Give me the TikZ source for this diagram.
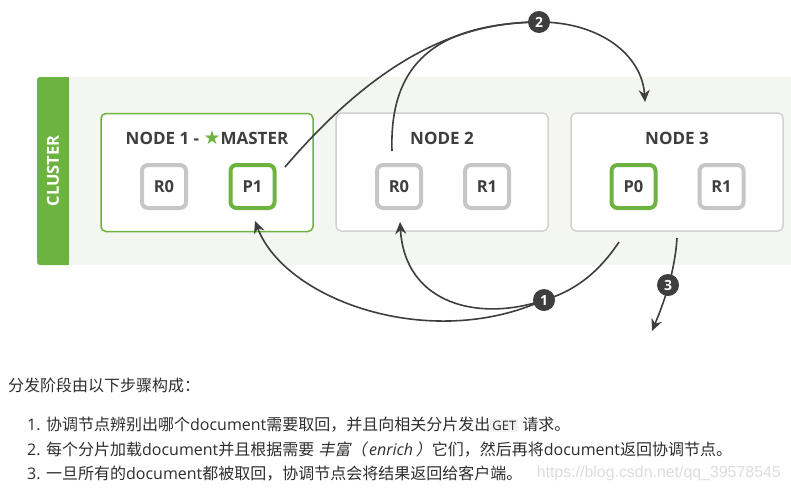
\documentclass[tikz,border=0pt]{standalone}
\usepackage{fontspec}
\setmainfont{Open Sans}
\newfontfamily\cjk{Noto Sans CJK SC}
\newfontfamily\cjkit[FakeSlant=0.2]{Noto Sans CJK SC}
\newfontfamily\sym{DejaVu Sans}
\newfontfamily\wm{Liberation Sans}
\usetikzlibrary{arrows.meta}
\definecolor{esgreen}{HTML}{6DB33F}
\definecolor{clbg}{HTML}{F4F6F1}
\definecolor{boxline}{HTML}{D2D2D2}
\definecolor{shardgray}{HTML}{C6C6C6}
\definecolor{ink}{HTML}{3E3E3E}
\definecolor{txt}{HTML}{2E2E2E}
\definecolor{codebg}{HTML}{F0F0F0}
\definecolor{wmgray}{HTML}{DCDCDC}
\tikzset{
  nodebox/.style={draw=boxline, line width=1.5pt, fill=white, rounded corners=5pt, minimum width=212pt, minimum height=118pt, inner sep=0pt},
  masterbox/.style={nodebox, draw=esgreen},
  title/.style={font=\fontsize{17}{17}\selectfont\bfseries, text=ink, inner sep=0pt},
  shard/.style={draw=shardgray, line width=4pt, fill=white, rounded corners=6pt, minimum width=44pt, minimum height=43pt, inner sep=0pt, font=\fontsize{16.5}{16.5}\selectfont\bfseries, text=ink},
  primary/.style={shard, draw=esgreen},
  stepnum/.style={circle, fill=ink, minimum size=22pt, inner sep=0pt, text=white, font=\fontsize{14}{14}\selectfont\bfseries},
  conn/.style={draw=ink, line width=1.6pt},
  tip/.style={-{Stealth[length=12pt,width=11pt]}},
  para/.style={anchor=base west, inner sep=0pt, text=txt, font=\fontsize{16}{16}\selectfont}
}
\begin{document}
\begin{tikzpicture}[x=1pt,y=-1pt]
\useasboundingbox (0,0) rectangle (791,490);
% cluster background
\fill[clbg] (37,77) rectangle (791,265);
\fill[esgreen, rounded corners=3pt] (37,77) rectangle (69,265);
\fill[esgreen] (60,77) rectangle (69,265);
\node[rotate=90, text=white, font=\fontsize{16.5}{16.5}\selectfont\bfseries, inner sep=0pt] (cluster) at (53,171) {CLUSTER};
% nodes
\node[masterbox] (node1) at (207,172.5) {};
\node[nodebox] (node2) at (442,172) {};
\node[nodebox] (node3) at (677,172) {};
\node[title] (t1) at (207,138) {NODE 1 - {\sym\fontsize{19}{19}\selectfont\color{esgreen}★}MASTER};
\node[title] (t2) at (442,138) {NODE 2};
\node[title] (t3) at (677,138) {NODE 3};
% shards
\node[shard] (n1r0) at (164,186.5) {R0};
\node[primary] (n1p1) at (252.5,186.5) {P1};
\node[shard] (n2r0) at (399,186.5) {R0};
\node[shard] (n2r1) at (487,186.5) {R1};
\node[primary] (n3p0) at (633.5,186.5) {P0};
\node[shard] (n3r1) at (721.5,186.5) {R1};
% connector anchors
\coordinate (k1) at (544,300);
\coordinate (k2) at (539,22);
\coordinate (k3) at (668,285);
\coordinate (s2a) at (285,167);
\coordinate (s2b) at (392,151);
\coordinate (e2) at (645,102);
\coordinate (s1) at (619,242);
\coordinate (e1a) at (255,221);
\coordinate (e1b) at (400,222);
\coordinate (s3) at (677,238);
\coordinate (e3) at (652,331);
% step 2
\draw[conn, tip] (s2a) .. controls (375,62) and (455,22) .. (k2) .. controls (600,22) and (642,55) .. (e2);
\draw[conn] (s2b) .. controls (389,60) and (440,24) .. (k2);
% step 1
\draw[conn] (s1) .. controls (597,275) and (572,292) .. (k1);
\draw[conn, tip] (k1) .. controls (430,352) and (285,300) .. (e1a);
\draw[conn, tip] (k1) .. controls (480,322) and (405,305) .. (e1b);
% step 3
\draw[conn, tip] (s3) .. controls (675,270) and (665,300) .. (e3);
% step markers
\node[stepnum] (c1) at (k1) {1};
\node[stepnum] (c2) at (k2) {2};
\node[stepnum] (c3) at (k3) {3};
% text
\node[para] (p0) at (8,391) {{\cjk 分发阶段由以下步骤构成：}};
\node[para] (p1) at (27,430) {1. {\cjk 协调节点辨别出哪个}document{\cjk 需要取回，并且向相关分片发出}{\setlength\fboxsep{2pt}\colorbox{codebg}{\fontsize{13}{13}\selectfont GET}} {\cjk 请求。}};
\node[para] (p2) at (27,455) {2. {\cjk 每个分片加载}document{\cjk 并且根据需要} {\cjkit 丰富（}\,{\itshape enrich}\,{\cjkit ）}{\cjk 它们，然后再将}document{\cjk 返回协调节点。}};
\node[para] (p3) at (27,479) {3. {\cjk 一旦所有的}document{\cjk 都被取回，协调节点会将结果返回给客户端。}};
\node[anchor=base east, inner sep=0pt, text=wmgray, font=\wm\fontsize{15.9}{15.9}\selectfont] (wmark) at (781,477) {https://blog.csdn.net/qq\_39578545};
\end{tikzpicture}
\end{document}
